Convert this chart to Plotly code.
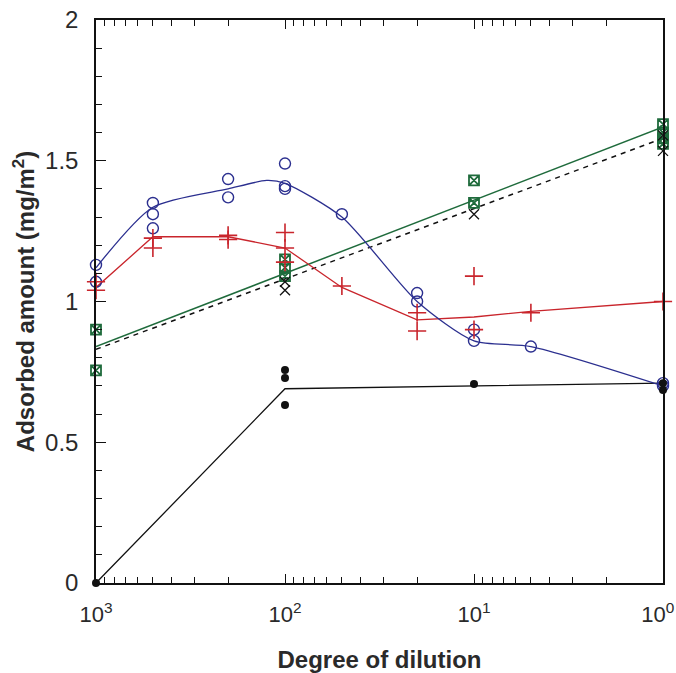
import plotly.graph_objects as go

# ---- data (degree of dilution, adsorbed amount mg/m2) ----
blue_x = [1000, 1000, 500, 500, 500, 200, 200, 100, 100, 100, 50, 20, 20, 10, 10, 5, 1, 1]
blue_y = [1.13, 1.07, 1.35, 1.31, 1.26, 1.435, 1.37, 1.49, 1.41, 1.40, 1.31, 1.03, 1.00, 0.90, 0.86, 0.84, 0.71, 0.70]
blue_fit_x = [1000, 500, 200, 125, 100, 50, 20, 10, 5, 1]
blue_fit_y = [1.12, 1.335, 1.40, 1.43, 1.42, 1.30, 1.00, 0.86, 0.84, 0.70]

red_x = [1000, 1000, 500, 500, 200, 200, 100, 100, 100, 50, 20, 20, 10, 10, 5, 1]
red_y = [1.07, 1.04, 1.225, 1.19, 1.235, 1.22, 1.245, 1.19, 1.14, 1.055, 0.96, 0.895, 1.09, 0.90, 0.96, 1.00]
red_fit_x = [1000, 500, 200, 100, 50, 20, 10, 5, 1]
red_fit_y = [1.05, 1.23, 1.23, 1.19, 1.05, 0.935, 0.945, 0.965, 1.00]

green_x = [1000, 1000, 100, 100, 100, 10, 10, 1, 1, 1, 1]
green_y = [0.90, 0.755, 1.15, 1.12, 1.09, 1.43, 1.35, 1.63, 1.60, 1.58, 1.56]
green_fit_x = [1000, 1]
green_fit_y = [0.84, 1.62]

cross_x = [100, 100, 10, 1, 1]
cross_y = [1.07, 1.04, 1.31, 1.535, 1.59]
dash_fit_x = [1000, 1]
dash_fit_y = [0.83, 1.58]

dot_x = [1000, 100, 100, 100, 10, 1, 1]
dot_y = [0.0, 0.757, 0.728, 0.632, 0.707, 0.71, 0.686]
dot_fit_x = [1000, 100, 1]
dot_fit_y = [0.0, 0.69, 0.71]

x_tickvals = [1000, 100, 10, 1]
x_ticktext = ["10<sup>3</sup>", "10<sup>2</sup>", "10<sup>1</sup>", "10<sup>0</sup>&nbsp;&#8201;"]
x_minor = [m * d for d in (1, 10, 100) for m in range(2, 10)]

BLUE = "#2b2f8f"
RED = "#c9252c"
GREEN = "#1f6b3c"
BLACK = "#111111"
TXT = "#2a2a2a"

fig = go.Figure()

# fitted lines
fig.add_trace(go.Scatter(x=green_fit_x, y=green_fit_y, mode="lines",
                         line=dict(color=GREEN, width=1.5), cliponaxis=False))
fig.add_trace(go.Scatter(x=dash_fit_x, y=dash_fit_y, mode="lines",
                         line=dict(color=BLACK, width=1.5, dash="5px,5px"), cliponaxis=False))
fig.add_trace(go.Scatter(x=dot_fit_x, y=dot_fit_y, mode="lines",
                         line=dict(color=BLACK, width=1.3), cliponaxis=False))
fig.add_trace(go.Scatter(x=red_fit_x, y=red_fit_y, mode="lines",
                         line=dict(color=RED, width=1.3), cliponaxis=False))
fig.add_trace(go.Scatter(x=blue_fit_x, y=blue_fit_y, mode="lines",
                         line=dict(color=BLUE, width=1.3, shape="spline", smoothing=0.7),
                         cliponaxis=False))

# markers
fig.add_trace(go.Scatter(x=green_x, y=green_y, mode="markers", cliponaxis=False,
                         marker=dict(symbol="square-x-open", size=10, color=GREEN,
                                     line=dict(width=1.8, color=GREEN))))
fig.add_trace(go.Scatter(x=cross_x, y=cross_y, mode="markers", cliponaxis=False,
                         marker=dict(symbol="x-thin-open", size=10, color=BLACK,
                                     line=dict(width=1.3, color=BLACK))))
fig.add_trace(go.Scatter(x=blue_x, y=blue_y, mode="markers", cliponaxis=False,
                         marker=dict(symbol="circle-open", size=11, color=BLUE,
                                     line=dict(width=1.4, color=BLUE))))
fig.add_trace(go.Scatter(x=red_x, y=red_y, mode="markers", cliponaxis=False,
                         marker=dict(symbol="cross-thin-open", size=13, color=RED,
                                     line=dict(width=1.6, color=RED))))
fig.add_trace(go.Scatter(x=dot_x, y=dot_y, mode="markers", cliponaxis=False,
                         marker=dict(symbol="circle", size=8, color=BLACK)))

fig.update_layout(
    width=676, height=673,
    margin=dict(l=96, r=13, t=20, b=90),
    paper_bgcolor="white", plot_bgcolor="white",
    showlegend=False,
    font=dict(family="Liberation Sans, Arial, sans-serif", size=24, color=TXT),
)

fig.update_xaxes(
    type="log", range=[3, 0], automargin=False,
    tickmode="array", tickvals=x_tickvals, ticktext=x_ticktext,
    ticks="inside", ticklen=9, tickwidth=1.2, tickcolor=BLACK,
    showline=True, linecolor=BLACK, linewidth=1.5, mirror="ticks",
    showgrid=False, zeroline=False,
    ticklabelstandoff=11, ticklabeloverflow="allow",
    tickfont=dict(size=22, color=TXT),
    minor=dict(tickmode="array", tickvals=x_minor, ticks="inside", ticklen=6,
               tickwidth=1.2, tickcolor=BLACK, showgrid=False),
    title=dict(text="<b>Degree of dilution</b>", font=dict(size=24, color=TXT),
               standoff=26),
)
fig.update_yaxes(
    range=[0, 2], automargin=False,
    tickmode="array", tickvals=[0, 0.5, 1, 1.5, 2], ticktext=["0", "0.5", "1", "1.5", "2"],
    ticks="inside", ticklen=10, tickwidth=1.2, tickcolor=BLACK,
    showline=True, linecolor=BLACK, linewidth=1.5, mirror=True,
    showgrid=False, zeroline=False,
    ticklabelstandoff=11,
    tickfont=dict(size=24, color=TXT),
    minor=dict(dtick=0.1, ticks="inside", ticklen=6, tickwidth=1.2, tickcolor=BLACK,
               showgrid=False),
    title=dict(text="<b>Adsorbed amount (mg/m<sup>2</sup>)</b>",
               font=dict(size=24, color=TXT), standoff=4),
)

fig.write_html("out.html")
